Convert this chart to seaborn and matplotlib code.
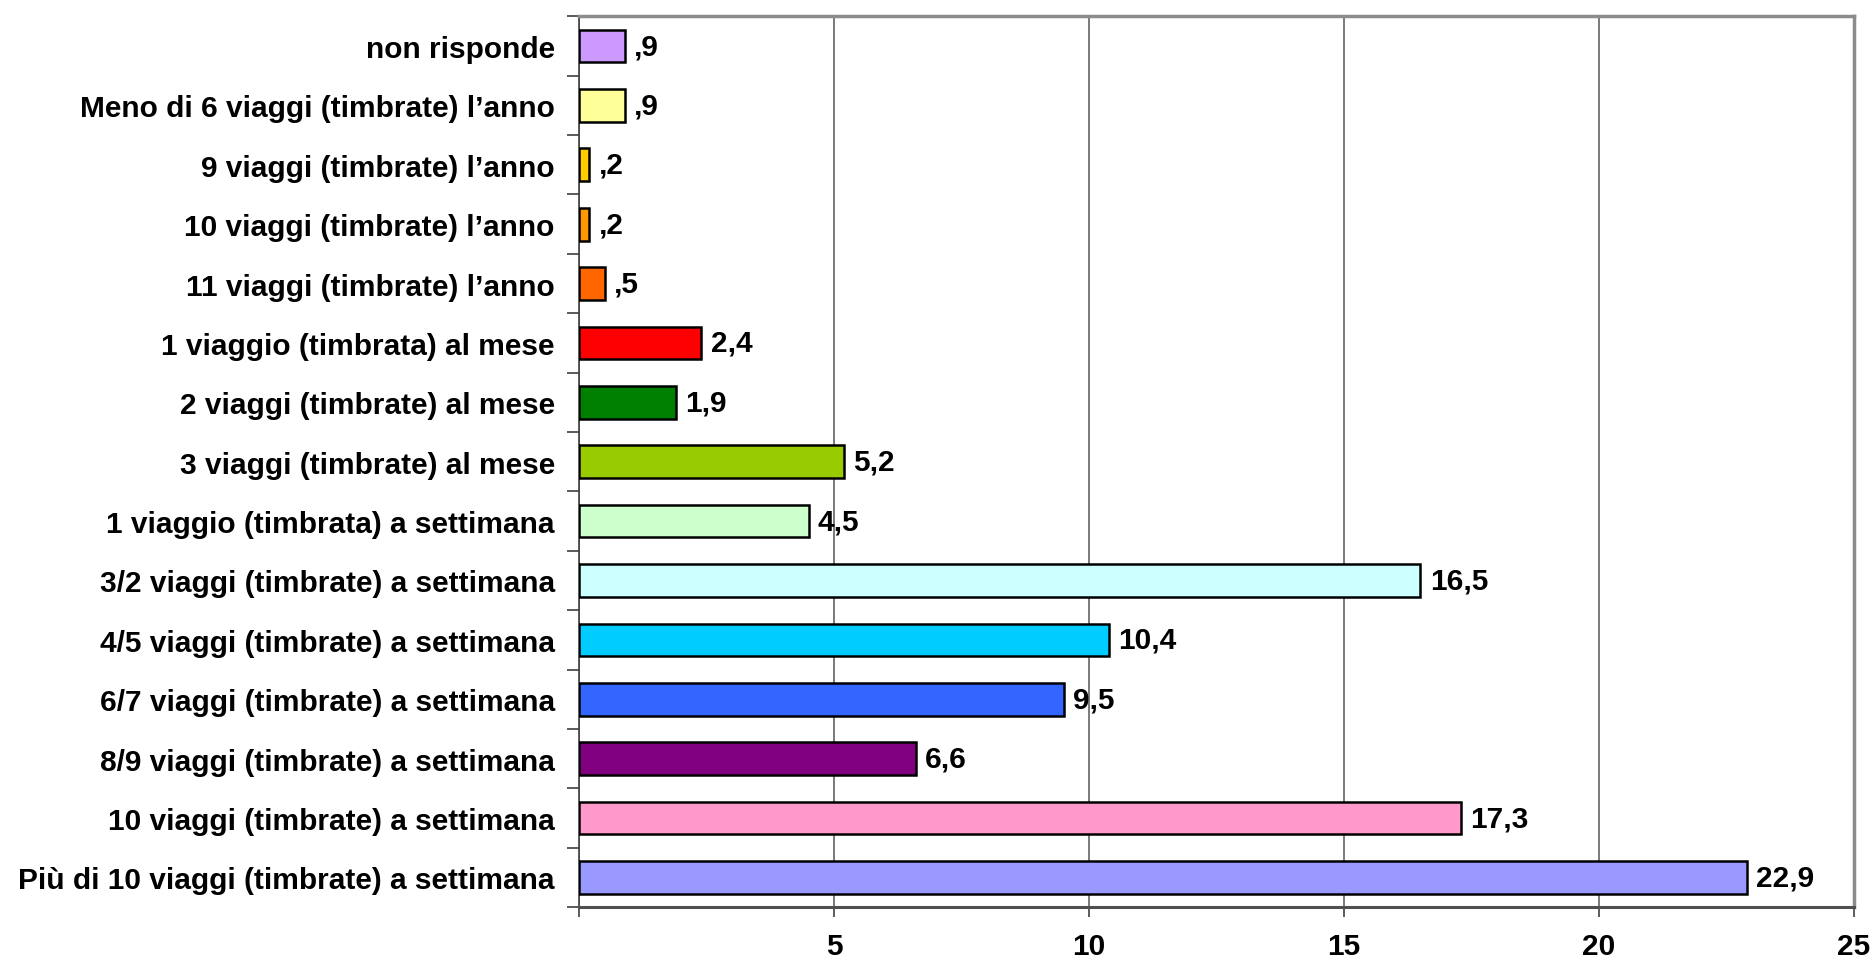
import matplotlib
matplotlib.use('Agg')
import matplotlib.pyplot as plt
import pandas as pd
import seaborn as sns

categories = [
    'non risponde',
    'Meno di 6 viaggi (timbrate) l\u2019anno',
    '9 viaggi (timbrate) l\u2019anno',
    '10 viaggi (timbrate) l\u2019anno',
    '11 viaggi (timbrate) l\u2019anno',
    '1 viaggio (timbrata) al mese',
    '2 viaggi (timbrate) al mese',
    '3 viaggi (timbrate) al mese',
    '1 viaggio (timbrata) a settimana',
    '3/2 viaggi (timbrate) a settimana',
    '4/5 viaggi (timbrate) a settimana',
    '6/7 viaggi (timbrate) a settimana',
    '8/9 viaggi (timbrate) a settimana',
    '10 viaggi (timbrate) a settimana',
    'Più di 10 viaggi (timbrate) a settimana',
]
values = [0.9, 0.9, 0.2, 0.2, 0.5, 2.4, 1.9, 5.2, 4.5, 16.5, 10.4, 9.5, 6.6, 17.3, 22.9]
colors = ['#CC99FF', '#FFFF99', '#FFCC00', '#FF9900', '#FF6600', '#FF0000', '#008000',
          '#99CC00', '#CCFFCC', '#CCFFFF', '#00CCFF', '#3366FF', '#800080', '#FF99CC', '#9999FF']
x_ticks = [0, 5, 10, 15, 20, 25]
x_tick_labels = ['', '5', '10', '15', '20', '25']

df = pd.DataFrame({'categoria': categories, 'valore': values})

sns.set_style('white')
plt.rcParams['font.family'] = ['Liberation Sans', 'DejaVu Sans']
plt.rcParams['font.weight'] = 'bold'
plt.rcParams['text.color'] = 'black'
plt.rcParams['xtick.labelcolor'] = 'black'
plt.rcParams['ytick.labelcolor'] = 'black'
FS = 21.5

fig = plt.figure(figsize=(18.74, 9.62), dpi=100)
ax = fig.add_axes([0.309, 0.056, 0.6803, 0.926])

sns.barplot(data=df, x='valore', y='categoria', hue='categoria', palette=colors,
            order=categories, orient='h', width=0.55, edgecolor='black',
            linewidth=1.8, saturation=1, legend=False, ax=ax, zorder=3)

# data labels, Italian style decimals without the leading zero
for patch, v in zip(ax.patches, values):
    txt = f'{v:.1f}'.replace('.', ',')
    if txt.startswith('0'):
        txt = txt[1:]
    ax.text(patch.get_width() + 0.18, patch.get_y() + patch.get_height() / 2, txt,
            va='center', ha='left', fontsize=FS, fontweight='bold', color='black', zorder=4)

ax.set_xlim(0, 25)
ax.set_ylim(14.5, -0.5)
ax.set_xticks(x_ticks)
ax.set_xticklabels(x_tick_labels)
ax.xaxis.grid(True, color='#707070', linewidth=1.3, zorder=0)
ax.set_axisbelow(True)

ax.set_xlabel('')
ax.set_ylabel('')
ax.tick_params(axis='x', which='major', bottom=True, length=7, width=1.2,
               color='#404040', pad=11, labelsize=FS, labelcolor='black')
ax.tick_params(axis='y', which='major', left=False, pad=14, labelsize=FS, labelcolor='black')
ax.set_yticks([i + 0.5 for i in range(-1, 15)], minor=True)
ax.tick_params(axis='y', which='minor', left=True, length=9, width=1.2, color='#404040')

for lab in ax.get_xticklabels() + ax.get_yticklabels():
    lab.set_fontweight('bold')

for side in ['top', 'right']:
    ax.spines[side].set_color('#8c8c8c')
    ax.spines[side].set_linewidth(2.5)
ax.spines['left'].set_color('#404040')
ax.spines['left'].set_linewidth(1.2)
ax.spines['bottom'].set_color('#505050')
ax.spines['bottom'].set_linewidth(2.2)

fig.savefig('out.png', dpi=100)
plt.close(fig)
